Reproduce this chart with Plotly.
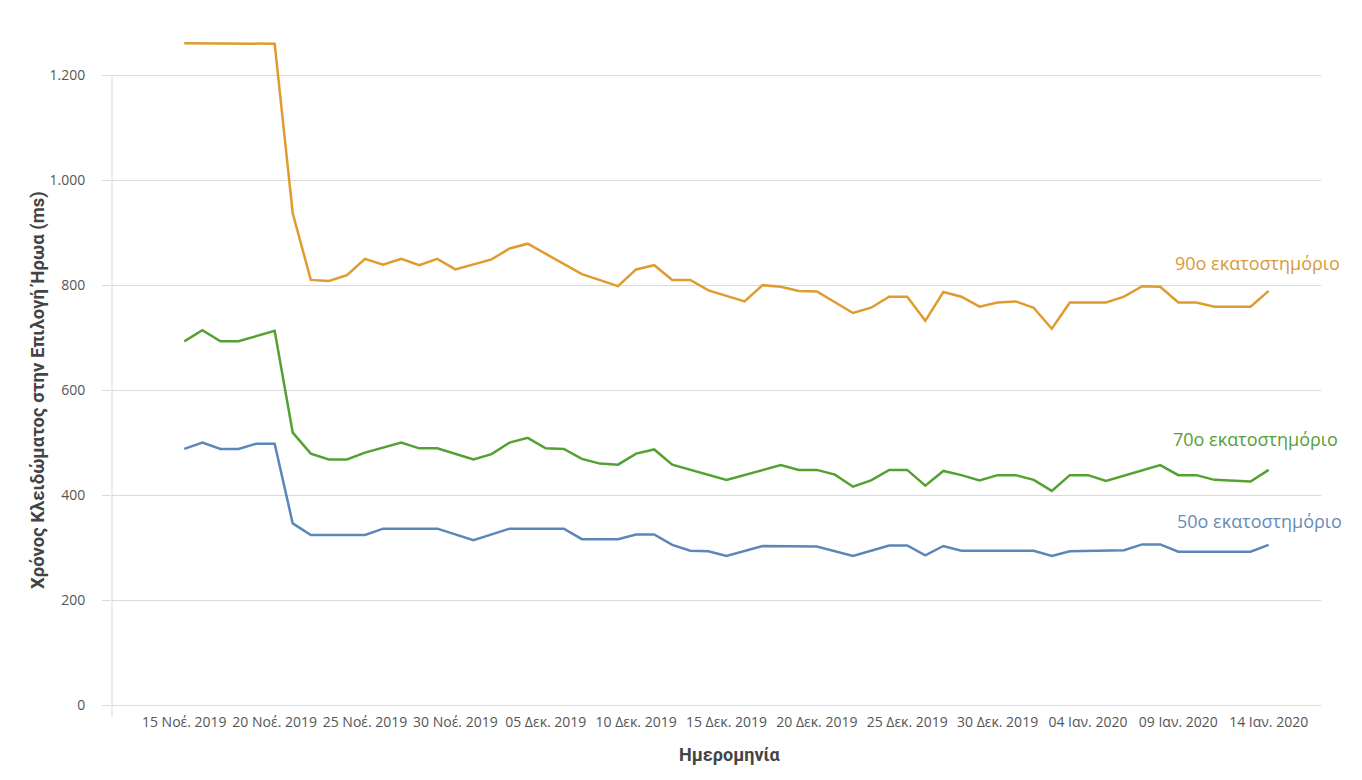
import pandas as pd
import plotly.graph_objects as go

# ---------------- data ----------------
dates = pd.date_range("2019-11-15", "2020-01-14", freq="D")

p90 = [1261, None, None, None, None, 1260, 937, 810, 808, 819,
       850, 839, 850, 838, 850, 830, None, 849, 870, 879,
       None, None, 821, None, 798, 830, 838, 810, 810, 790,
       None, 769, 800, 797, 789, 788, None, 747, 757, 778,
       778, 732, 787, 778, 759, 767, 769, 757, 717, 767,
       None, 767, 778, 798, 797, 767, 767, 759, None, 759,
       789]

p70 = [693, 714, 693, 693, None, 713, 519, 479, 468, 468,
       481, None, 500, 489, 489, None, 468, 478, 500, 509,
       489, 488, 469, 460, 458, 479, 487, 458, None, None,
       429, None, None, 457, 448, 448, 439, 416, 428, 448,
       448, 418, 446, 438, 428, 438, 438, 429, 408, 438,
       438, 427, None, None, 457, 438, 438, 429, None, 426,
       448]

p50 = [488, 500, 488, 488, 498, 498, 346, 324, None, None,
       324, 336, None, None, 336, None, 314, None, 336, None,
       None, 336, 316, None, 316, 325, 325, 305, 294, 293,
       284, None, 303, None, None, 302, None, 284, None, 304,
       304, 285, 303, 294, None, None, None, 294, 284, 293,
       None, None, 295, 306, 306, 292, None, None, None, 292,
       305]

series_names = ["90ο εκατοστημόριο", "70ο εκατοστημόριο", "50ο εκατοστημόριο"]

tick_dates = ["2019-11-15", "2019-11-20", "2019-11-25", "2019-11-30", "2019-12-05",
              "2019-12-10", "2019-12-15", "2019-12-20", "2019-12-25", "2019-12-30",
              "2020-01-04", "2020-01-09", "2020-01-14"]
tick_text = ["15 Νοέ. 2019", "20 Νοέ. 2019", "25 Νοέ. 2019", "30 Νοέ. 2019", "05 Δεκ. 2019",
             "10 Δεκ. 2019", "15 Δεκ. 2019", "20 Δεκ. 2019", "25 Δεκ. 2019", "30 Δεκ. 2019",
             "04 Ιαν. 2020", "09 Ιαν. 2020", "14 Ιαν. 2020"]
y_ticks = [0, 200, 400, 600, 800, 1000, 1200]

y_title = "Χρόνος Κλειδώματος στην Επιλογή Ήρωα (ms)"
x_title = "Ημερομηνία"

# ---------------- style ----------------
colors = ["#df9c2e", "#54a032", "#5b86b8"]
label_colors = ["#d99a36", "#55a034", "#6a8ab6"]
grid = "#dadada"
txt = "#555555"

fig = go.Figure()
for vals, name, col in zip([p90, p70, p50], series_names, colors):
    fig.add_trace(go.Scatter(x=dates, y=vals, mode="lines", name=name,
                             connectgaps=True,
                             line=dict(color=col, width=2.5)))

W, H = 1362, 780
ml, mr, mt, mb = 112, 41, 28, 75
pw, ph = W - ml - mr, H - mt - mb

fig.update_layout(
    width=W, height=H,
    margin=dict(l=ml, r=mr, t=mt, b=mb, pad=0),
    paper_bgcolor="white", plot_bgcolor="white",
    showlegend=False,
    separators=",.",
    font=dict(family="Open Sans", size=14, color=txt),
)

fig.update_xaxes(
    type="date",
    range=["2019-11-11", "2020-01-16 21:30"],
    tickvals=tick_dates, ticktext=tick_text,
    showgrid=False, zeroline=False, showline=False,
    ticks="", ticklabelstandoff=7,
    tickfont=dict(family="Open Sans", size=14, color=txt),
)
fig.update_yaxes(
    range=[0, 1290],
    tickvals=y_ticks, tickformat=",d",
    showgrid=True, gridcolor=grid, gridwidth=1,
    zeroline=True, zerolinecolor=grid, zerolinewidth=1,
    showline=False,
    ticks="outside", ticklen=9, tickcolor=grid, tickwidth=1,
    ticklabelstandoff=14,
    tickfont=dict(family="Open Sans", size=14, color=txt),
)

# vertical axis line (ends at the 1.200 grid line, extends slightly below 0)
fig.add_shape(type="line", xref="paper", yref="paper",
              x0=0, x1=0, y0=-12 / ph, y1=1200 / 1290,
              line=dict(color=grid, width=1))

# series labels
label_pos = [(1173, 842), (1171, 507), (1175, 351)]
for name, lc, (px, yv) in zip(series_names, label_colors, label_pos):
    fig.add_annotation(x=(px - ml) / pw, xref="paper", y=yv, yref="y",
                       text=name, showarrow=False, xanchor="left", yanchor="middle",
                       font=dict(family="Open Sans", size=18, color=lc))

# axis titles
fig.add_annotation(x=(730 - ml) / pw, xref="paper", y=(H - mb - 754) / ph, yref="paper",
                   text="<b>" + x_title + "</b>", showarrow=False,
                   xanchor="center", yanchor="middle",
                   font=dict(family="Roboto", size=18, color="#444444"))
fig.add_annotation(x=(38 - ml) / pw, xref="paper", y=(H - mb - 390) / ph, yref="paper",
                   text="<b>" + y_title + "</b>", showarrow=False, textangle=-90,
                   xanchor="center", yanchor="middle",
                   font=dict(family="Roboto", size=18.5, color="#444444"))

fig.write_html("out.html")
